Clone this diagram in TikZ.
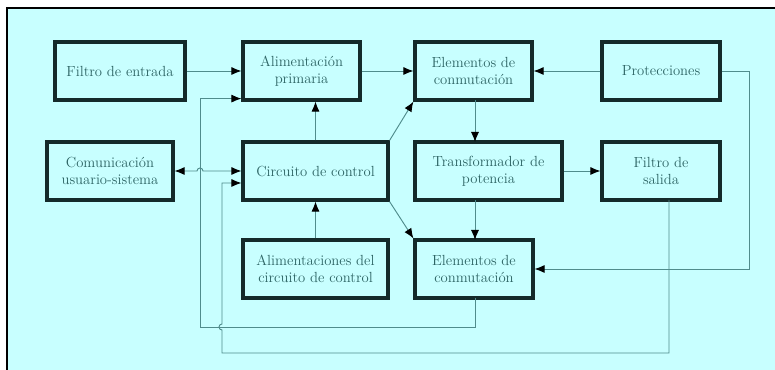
\documentclass[tikz,border=0pt]{standalone}
\usepackage{tikz}
\usetikzlibrary{calc, positioning, arrows.meta}
\definecolor{fondocian}{RGB}{200,255,255}
\definecolor{textoteal}{RGB}{45,100,100}
\definecolor{bordeteal}{RGB}{20,42,42}
\definecolor{lineateal}{RGB}{80,140,140}
\tikzset{
    bloque/.style={draw=bordeteal, line width=2.4pt, fill=fondocian, minimum height=43.5pt, align=center, text=textoteal, font=\fontsize{11}{13}\selectfont, inner sep=1pt},
    flecha/.style={-{Latex[length=7.5pt,width=6pt,color=black]}, draw=lineateal, line width=0.7pt},
    dobleflecha/.style={{Latex[length=7.5pt,width=6pt,color=black]}-{Latex[length=7.5pt,width=6pt,color=black]}, draw=lineateal, line width=0.7pt}
}
\begin{document}
\begin{tikzpicture}[x=0.75pt,y=-0.75pt]
    \useasboundingbox (0,0) rectangle (775,370);
    \fill[fondocian] (7,8) rectangle (775,370);
    \draw[black, line width=2.2pt] (7,370) -- (7,8) -- (775,8);
    % fila superior
    \node[bloque, minimum width=97.5pt] (fin) at (120,71) {Filtro de entrada};
    \node[bloque, minimum width=87.75pt] (alim) at (301.5,71) {Alimentación\\primaria};
    \node[bloque, minimum width=87.75pt] (conma) at (473.5,71) {Elementos de\\conmutación};
    \node[bloque, minimum width=88.5pt] (prot) at (661,71) {Protecciones};
    % fila central
    \node[bloque, minimum width=94.5pt] (comu) at (110,171) {Comunicación\\usuario-sistema};
    \node[bloque, minimum width=108.75pt] (ctrl) at (315.5,171) {Circuito de control};
    \node[bloque, minimum width=110.25pt] (trafo) at (488.5,171) {Transformador de\\potencia};
    \node[bloque, minimum width=88.5pt] (fout) at (661,171) {Filtro de\\salida};
    % fila inferior
    \node[bloque, minimum width=108.75pt] (aux) at (315.5,269) {Alimentaciones del\\circuito de control};
    \node[bloque, minimum width=88.5pt] (conmb) at (474,269) {Elementos de\\conmutación};
    % conexiones directas
    \draw[flecha] (fin) -- (alim);
    \draw[flecha] (alim) -- (conma);
    \draw[flecha] (prot) -- (conma);
    \draw[flecha] (ctrl.north) -- (ctrl.north |- alim.south);
    \draw[flecha] (aux) -- (ctrl);
    \draw[flecha] (ctrl.north east) -- (conma.south west);
    \draw[flecha] (ctrl.south east) -- (conmb.north west);
    \draw[flecha] (475,100) -- (475,142);
    \draw[flecha] (475,200) -- (475,240);
    \draw[flecha] (trafo) -- (fout);
    \draw[dobleflecha] (comu.east) -- (197,171) arc[start angle=180, end angle=0, radius=2.25pt] -- (ctrl.west);
    % realimentaciones
    \draw[flecha] (prot.east) -- ++(28,0) |- (conmb.east);
    \coordinate (entctrl) at ($(ctrl.west)+(0,12)$);
    \draw[flecha] (669,200) -- (669,353) -- (222,353) -- (222,330)
        arc[start angle=270, end angle=90, radius=2.25pt] |- (entctrl);
    \coordinate (entalim) at ($(alim.south west)+(0,-3)$);
    \draw[flecha] (475,298) -- (475,327) -- (200,327) |- (entalim);
\end{tikzpicture}
\end{document}
